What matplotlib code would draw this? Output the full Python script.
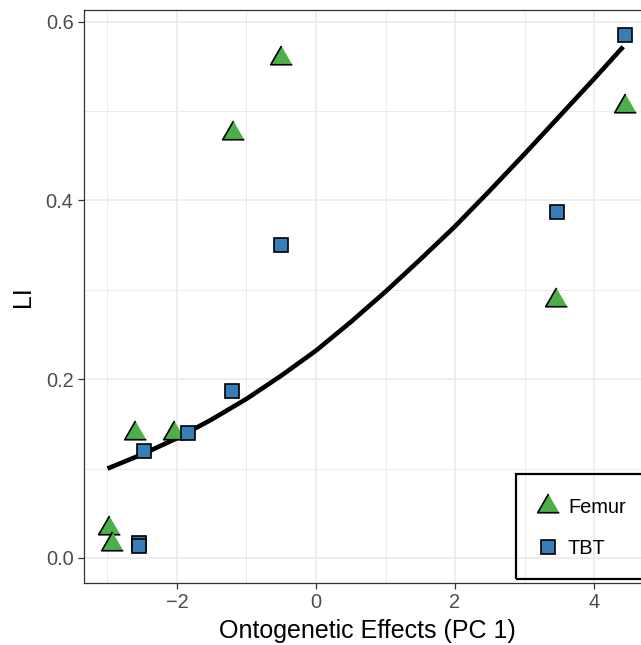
import numpy as np
import matplotlib
matplotlib.use('Agg')
import matplotlib.pyplot as plt
from matplotlib.patches import Rectangle
from matplotlib.lines import Line2D

#%% plot parameters
plt.rcParams['font.family'] = ['Liberation Sans', 'DejaVu Sans']

#%% data
femur_x = [-0.51, -1.19, 4.44, 3.46, -2.60, -2.05, -2.98, -2.94]
femur_y = [0.559, 0.476, 0.506, 0.289, 0.140, 0.140, 0.034, 0.016]
tbt_x = [4.45, 3.47, -0.51, -1.21, -1.84, -2.47, -2.55, -2.55]
tbt_y = [0.585, 0.387, 0.350, 0.187, 0.140, 0.120, 0.017, 0.013]

# fitted curve
curve_x = [-3.0, -2.5, -2.0, -1.5, -1.0, -0.5, 0.0, 0.5, 1.0, 1.5, 2.0,
           2.5, 3.0, 3.5, 4.0, 4.42]
curve_y = [0.100, 0.116, 0.134, 0.155, 0.178, 0.204, 0.232, 0.264, 0.298,
           0.334, 0.371, 0.411, 0.452, 0.494, 0.536, 0.572]

x_ticks = [-2, 0, 2, 4]
y_ticks = [0.0, 0.2, 0.4, 0.6]
y_ticklabels = ['0.0', '0.2', '0.4', '0.6']

green = '#4DAF4A'
blue = '#377EB8'
tri = [(0, 1), (-0.866, -0.5), (0.866, -0.5)]

#%% figure
W, H = 641, 645
fig = plt.figure(figsize=(W / 100, H / 100), dpi=100)
ax = fig.add_axes([84 / W, 1 - 583 / H, (651 - 84) / W, (583 - 10) / H])

ax.set_xlim(-3.338, 4.82)
ax.set_ylim(-0.028, 0.6131)

ax.set_xticks(x_ticks)
ax.set_xticks([-3, -1, 1, 3], minor=True)
ax.set_yticks(y_ticks)
ax.set_yticklabels(y_ticklabels)
ax.set_yticks([0.1, 0.3, 0.5], minor=True)
ax.grid(which='major', color='#EBEBEB', lw=1.2)
ax.grid(which='minor', color='#EBEBEB', lw=0.7)
ax.set_axisbelow(True)
ax.tick_params(which='major', length=4, width=0.9, color='#333333',
               labelcolor='#4D4D4D', labelsize=14.4, pad=3.5)
ax.tick_params(which='minor', length=0)
for s in ax.spines.values():
    s.set_color('#333333')
    s.set_linewidth(0.9)

ax.plot(curve_x, curve_y, color='k', lw=3.3, solid_capstyle='butt',
        solid_joinstyle='round', zorder=3)
ax.plot(femur_x, femur_y, ls='none', marker=tri, ms=18, mfc=green,
        mec='k', mew=1.2, zorder=4)
ax.plot(tbt_x, tbt_y, ls='none', marker='s', ms=9.8, mfc=blue,
        mec='k', mew=1.2, zorder=4)

ax.set_xlabel('Ontogenetic Effects (PC 1)', fontsize=18, labelpad=5)
ax.set_ylabel('LI', fontsize=18, labelpad=8)

# legend box (runs past the right edge like the original)
fig.patches.append(Rectangle((516 / W, 1 - 579 / H), 150 / W, 105 / H,
                             transform=fig.transFigure, fill=False,
                             ec='k', lw=1.6, clip_on=False))
handles = [Line2D([], [], ls='none', marker=tri, ms=18, mfc=green, mec='k', mew=1.2),
           Line2D([], [], ls='none', marker='s', ms=9.8, mfc=blue, mec='k', mew=1.2)]
fig.legend(handles, ['Femur', 'TBT'], loc='upper left',
           bbox_to_anchor=(516 / W, 1 - 486 / H), frameon=False,
           fontsize=14.4, borderpad=0.6, handlelength=2.0,
           handletextpad=0.0, labelspacing=1.1, borderaxespad=0)

fig.savefig('out.png', dpi=100)
